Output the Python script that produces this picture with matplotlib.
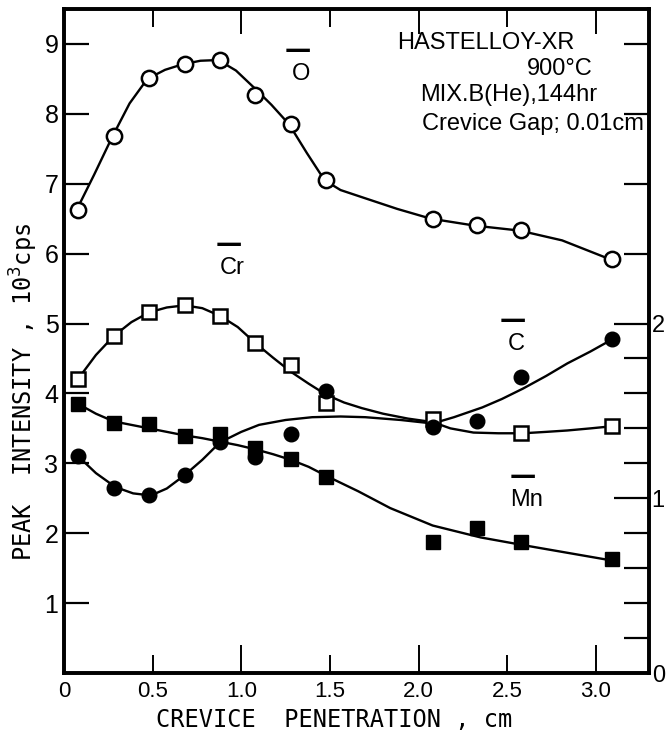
import matplotlib
matplotlib.use("Agg")
import matplotlib.pyplot as plt
import numpy as np

# crevice penetration (cm) of the sampled points
penetration = [0.08, 0.28, 0.48, 0.68, 0.88, 1.08, 1.28, 1.48, 2.08, 2.33, 2.58, 3.09]

# peak intensities, 10^3 cps
oxygen = [6.62, 7.68, 8.52, 8.71, 8.77, 8.27, 7.86, 7.06, 6.50, 6.41, 6.34, 5.93]
carbon = [3.10, 2.64, 2.54, 2.83, 3.30, 3.09, 3.42, 4.03, 3.52, 3.61, 4.23, 4.78]
manganese = [3.85, 3.58, 3.56, 3.39, 3.42, 3.22, 3.06, 2.80, 1.87, 2.07, 1.87, 1.63]
chromium_x = [0.08, 0.28, 0.48, 0.68, 0.88, 1.08, 1.28, 1.48, 2.08, 2.58, 3.09]
chromium = [4.21, 4.82, 5.16, 5.26, 5.11, 4.72, 4.40, 3.86, 3.63, 3.43, 3.53]

# hand-drawn trend curves read along their length
o_fit_x = [0.07, 0.17, 0.27, 0.37, 0.47, 0.57, 0.67, 0.77, 0.87, 0.97, 1.07, 1.17,
           1.27, 1.37, 1.47, 1.56, 1.69, 1.88, 2.07, 2.32, 2.57, 2.81, 3.07]
o_fit_y = [6.62, 7.13, 7.66, 8.15, 8.50, 8.63, 8.71, 8.76, 8.77, 8.62, 8.38, 8.13,
           7.85, 7.44, 7.05, 6.91, 6.80, 6.64, 6.50, 6.40, 6.33, 6.19, 5.93]
cr_fit_x = [0.08, 0.18, 0.28, 0.38, 0.48, 0.58, 0.68, 0.78, 0.88, 0.98, 1.08, 1.18,
            1.28, 1.38, 1.48, 1.58, 1.68, 1.80, 1.94, 2.08, 2.18, 2.31, 2.45, 2.59,
            2.72, 2.84, 2.97, 3.09]
cr_fit_y = [4.21, 4.55, 4.82, 5.02, 5.16, 5.23, 5.26, 5.22, 5.11, 4.95, 4.72, 4.51,
            4.31, 4.14, 3.98, 3.87, 3.79, 3.71, 3.64, 3.59, 3.50, 3.44, 3.43, 3.43,
            3.45, 3.47, 3.50, 3.53]
c_fit_x = [0.08, 0.18, 0.29, 0.39, 0.49, 0.58, 0.68, 0.78, 0.88, 1.00, 1.10, 1.25,
           1.40, 1.56, 1.70, 1.90, 2.08, 2.20, 2.36, 2.47, 2.59, 2.72, 2.84, 2.97, 3.09]
c_fit_y = [3.10, 2.86, 2.66, 2.57, 2.54, 2.64, 2.83, 3.05, 3.30, 3.45, 3.55, 3.62,
           3.66, 3.67, 3.66, 3.62, 3.57, 3.66, 3.80, 3.92, 4.07, 4.25, 4.43, 4.60, 4.77]
mn_fit_x = [0.08, 0.18, 0.28, 0.38, 0.48, 0.58, 0.68, 0.78, 0.88, 0.98, 1.08, 1.18,
            1.28, 1.38, 1.48, 1.66, 1.84, 2.08, 2.35, 2.59, 2.84, 3.09]
mn_fit_y = [3.85, 3.71, 3.60, 3.55, 3.50, 3.45, 3.40, 3.36, 3.31, 3.26, 3.20, 3.13,
            3.05, 2.95, 2.82, 2.60, 2.36, 2.11, 1.94, 1.83, 1.72, 1.61]

# element labels (name, x, y)
element_labels = [("O", 1.34, 8.57), ("Cr", 0.95, 5.79), ("C", 2.55, 4.71), ("Mn", 2.61, 2.47)]

x_ticks = [0, 0.5, 1.0, 1.5, 2.0, 2.5, 3.0]
x_ticklabels = ["0", "0.5", "1.0", "1.5", "2.0", "2.5", "3.0"]
y_ticks = [1, 2, 3, 4, 5, 6, 7, 8, 9]
right_ticks = [0, 1, 2]
right_minor = [0.2, 0.4, 0.6, 0.8, 1.2, 1.4, 1.6, 1.8, 2.4, 2.8, 3.2, 3.6]

sans = ["Liberation Sans", "DejaVu Sans"]
mono = ["DejaVu Sans Mono"]

fig = plt.figure(figsize=(6.69, 7.39), dpi=100)
ax = fig.add_axes([0.0957, 0.0893, 0.8743, 0.8985])

lw = 1.7
ax.plot(o_fit_x, o_fit_y, color="black", lw=lw, zorder=2)
ax.plot(cr_fit_x, cr_fit_y, color="black", lw=lw, zorder=2)
ax.plot(c_fit_x, c_fit_y, color="black", lw=lw, zorder=2)
ax.plot(mn_fit_x, mn_fit_y, color="black", lw=lw, zorder=2)

ax.plot(penetration, oxygen, "o", ms=11, mfc="white", mec="black", mew=1.8, zorder=3)
ax.plot(chromium_x, chromium, "s", ms=9.5, mfc="white", mec="black", mew=1.8, zorder=3)
ax.plot(penetration, manganese, "s", ms=10, mfc="black", mec="black", zorder=4)
ax.plot(penetration, carbon, "o", ms=10.5, mfc="black", mec="black", zorder=4)

for name, lx, ly in element_labels:
    ax.text(lx, ly, name, fontsize=17, family=sans, ha="center", va="center")
    ax.text(lx - 0.02, ly + 0.33, "\u2014", fontsize=19, fontweight="bold",
            ha="center", va="center")

ax.set_xlim(0, 3.3)
ax.set_ylim(0, 9.5)

ax.set_xticks(x_ticks)
ax.set_xticklabels(x_ticklabels, family=sans, fontsize=16)
ax.set_yticks(y_ticks)
ax.set_yticklabels([str(v) for v in y_ticks], family=sans, fontsize=18)
ax.tick_params(axis="y", direction="in", length=18, width=1.6, pad=4, right=False)
ax.tick_params(axis="x", direction="in", length=13, width=1.4, pad=6, top=True)
# longer marks at the whole centimetres
for t, tick in zip(x_ticks, ax.xaxis.get_major_ticks()):
    if t in (1.0, 2.0, 3.0):
        tick.tick1line.set_markersize(20)
        tick.tick2line.set_markersize(18)

for sp in ax.spines.values():
    sp.set_linewidth(2.6)

# right-hand scale for the weaker lines
ax2 = ax.twinx()
ax2.set_ylim(0, 9.5 * 0.4)
ax2.set_yticks(right_ticks)
ax2.set_yticklabels([str(v) for v in right_ticks], family=sans, fontsize=17)
ax2.set_yticks(right_minor, minor=True)
ax2.tick_params(axis="y", which="major", direction="in", length=25, width=1.6, pad=2)
ax2.tick_params(axis="y", which="minor", direction="in", length=18, width=1.6)
for sp in ax2.spines.values():
    sp.set_linewidth(2.6)

fig.text(0.036, 0.47, "PEAK  INTENSITY , 10$^3$cps", rotation=90, family=mono,
         fontsize=17, ha="center", va="center")
fig.text(0.50, 0.026, "CREVICE  PENETRATION , cm", family=mono, fontsize=17,
         ha="center", va="center")

info = dict(fontsize=17, family=sans, transform=ax.transData)
ax.text(1.88, 9.02, "HASTELLOY-XR", ha="left", va="center", **info)
ax.text(2.98, 8.64, "900\u00b0C", ha="right", va="center", **info)
ax.text(2.01, 8.27, "MIX.B(He),144hr", ha="left", va="center", **info)
ax.text(2.02, 7.86, "Crevice Gap; 0.01cm", ha="left", va="center", **info)

fig.savefig("out.png", dpi=100)
